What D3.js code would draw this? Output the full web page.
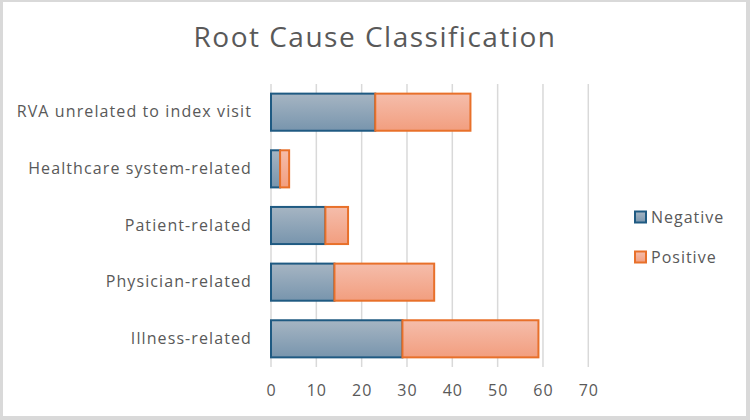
<!DOCTYPE html>
<html><head><meta charset="utf-8">
<script src="https://cdn.jsdelivr.net/npm/d3@7"></script>
<style>html,body{margin:0;padding:0;background:#fff;}svg{display:block;}</style>
</head><body>
<script>
const categories = ["RVA unrelated to index visit","Healthcare system-related","Patient-related","Physician-related","Illness-related"];
const negativeValues = [23, 2, 12, 14, 29];
const positiveValues = [21, 2, 5, 22, 30];
const seriesNames = ["Negative","Positive"];
const xTicks = [0,10,20,30,40,50,60,70];
const titleText = "Root Cause Classification";

const W = 750, H = 420;
const font = "'Open Sans', sans-serif";
const textColor = "#595959";
const svg = d3.select("body").append("svg").attr("width", W).attr("height", H);

const defs = svg.append("defs");
function grad(id, c1, c2) {
  const g = defs.append("linearGradient").attr("id", id).attr("x1",0).attr("y1",0).attr("x2",0).attr("y2",1);
  g.append("stop").attr("offset","0%").attr("stop-color",c1);
  g.append("stop").attr("offset","100%").attr("stop-color",c2);
}
grad("gNeg", "#a6b5c3", "#7895ad");
grad("gPos", "#f5bdab", "#f29e7f");

svg.append("rect").attr("width",W).attr("height",H).attr("fill","#d9d9d9");
svg.append("rect").attr("x",3).attr("y",2).attr("width",743).attr("height",414).attr("fill","#fff");

svg.append("text").attr("x",375).attr("y",47).attr("text-anchor","middle")
  .attr("font-family",font).attr("font-size",28).attr("letter-spacing",1.5).attr("fill",textColor).text(titleText);

const x = d3.scaleLinear().domain([0,70]).range([271,588.3]);
const y = d3.scaleBand().domain(categories).range([84,367]).paddingInner(0.345).paddingOuter(0.17);

// gridlines
svg.append("g").selectAll("line").data(xTicks).join("line")
  .attr("x1",d=>x(d)).attr("x2",d=>x(d)).attr("y1",84).attr("y2",367)
  .attr("stroke","#d9d9d9").attr("stroke-width",1.5);

// x axis labels
const xAxis = d3.axisBottom(x).tickValues(xTicks).tickSize(0).tickPadding(0);
const gx = svg.append("g").attr("transform","translate(0,385)").call(xAxis);
gx.select(".domain").remove();
gx.selectAll("text").attr("font-family",font).attr("font-size",16).attr("letter-spacing",1).attr("fill",textColor).attr("dy","0.71em");

// y labels
const yAxis = d3.axisLeft(y).tickSize(0).tickPadding(0);
const gy = svg.append("g").attr("transform","translate(252,0)").call(yAxis);
gy.select(".domain").remove();
gy.selectAll("text").attr("font-family",font).attr("font-size",16).attr("letter-spacing",1.1).attr("fill",textColor);

const rows = categories.map((c,i)=>({c, neg:negativeValues[i], pos:positiveValues[i]}));

// negative bars
const gn = svg.append("g");
gn.selectAll("rect").data(rows).join("rect")
  .attr("x",x(0)).attr("y",d=>y(d.c)).attr("width",d=>x(d.neg)-x(0)).attr("height",y.bandwidth())
  .attr("fill","url(#gNeg)").attr("stroke","#1f5a82").attr("stroke-width",2);
// positive bars
const gp = svg.append("g");
gp.selectAll("rect").data(rows).join("rect")
  .attr("x",d=>x(d.neg)).attr("y",d=>y(d.c)).attr("width",d=>x(d.neg+d.pos)-x(d.neg)).attr("height",y.bandwidth())
  .attr("fill","url(#gPos)").attr("stroke","#e8702a").attr("stroke-width",2);

// legend
const legY = [217, 257];
const leg = svg.append("g");
seriesNames.forEach((s,i)=>{
  leg.append("rect").attr("x",635).attr("y",legY[i]-5.5).attr("width",11).attr("height",11)
    .attr("fill", i===0?"url(#gNeg)":"url(#gPos)").attr("stroke", i===0?"#1f5a82":"#e8702a").attr("stroke-width",2);
  leg.append("text").attr("x",651).attr("y",legY[i]).attr("dy","0.35em")
    .attr("font-family",font).attr("font-size",16).attr("letter-spacing",1).attr("fill",textColor).text(s);
});
</script>
</body></html>
